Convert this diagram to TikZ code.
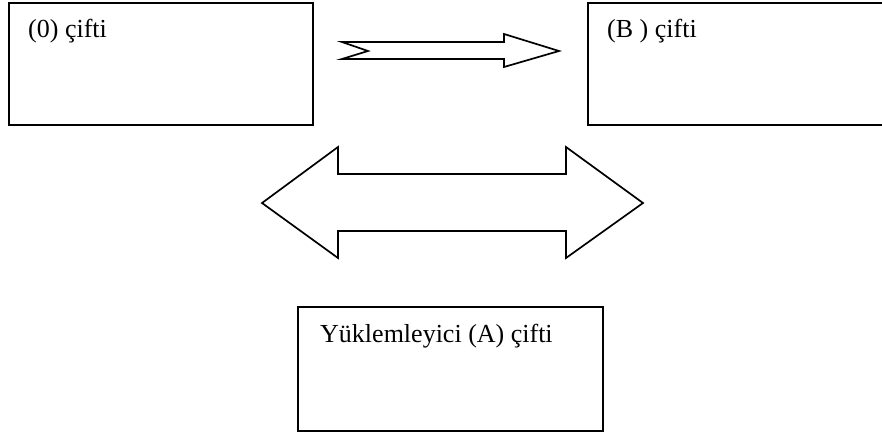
\documentclass[tikz,border=0pt]{standalone}
\usepackage{fontspec}
\setmainfont{Liberation Serif}
\begin{document}
\begin{tikzpicture}[x=1pt,y=-1pt,
  pairbox/.style={draw,line width=1.7pt,rectangle,inner sep=0pt,anchor=north west},
  boxlabel/.style={font=\fontsize{26}{30}\selectfont,anchor=base west,inner sep=0pt},
  blockarrow/.style={draw,line width=1.7pt,line join=miter,fill=white}]
\useasboundingbox (0,0) rectangle (882,434);

% the three pair boxes
\node[pairbox,minimum width=304pt,minimum height=122pt] (zero) at (8,2) {};
\node[pairbox,minimum width=310pt,minimum height=122pt] (bpair) at (587,2) {};
\node[pairbox,minimum width=305pt,minimum height=124pt] (apair) at (297,306) {};

\node[boxlabel] (zerolbl) at (28,37) {(0) çifti};
\node[boxlabel] (blbl) at (607,37) {(B ) çifti};
\node[boxlabel] (albl) at (320,342) {Yüklemleyici (A) çifti};

% notched arrow from (0) to (B)
\draw[blockarrow] (342,42) -- (504,42) -- (504,34) -- (559,51) -- (504,67)
  -- (504,59) -- (342,59) -- (368,51) -- cycle;

% double-headed arrow
\draw[blockarrow] (262,203) -- (338,147) -- (338,174) -- (566,174) -- (566,147)
  -- (643,203) -- (566,258) -- (566,231) -- (338,231) -- (338,258) -- cycle;
\end{tikzpicture}
\end{document}
